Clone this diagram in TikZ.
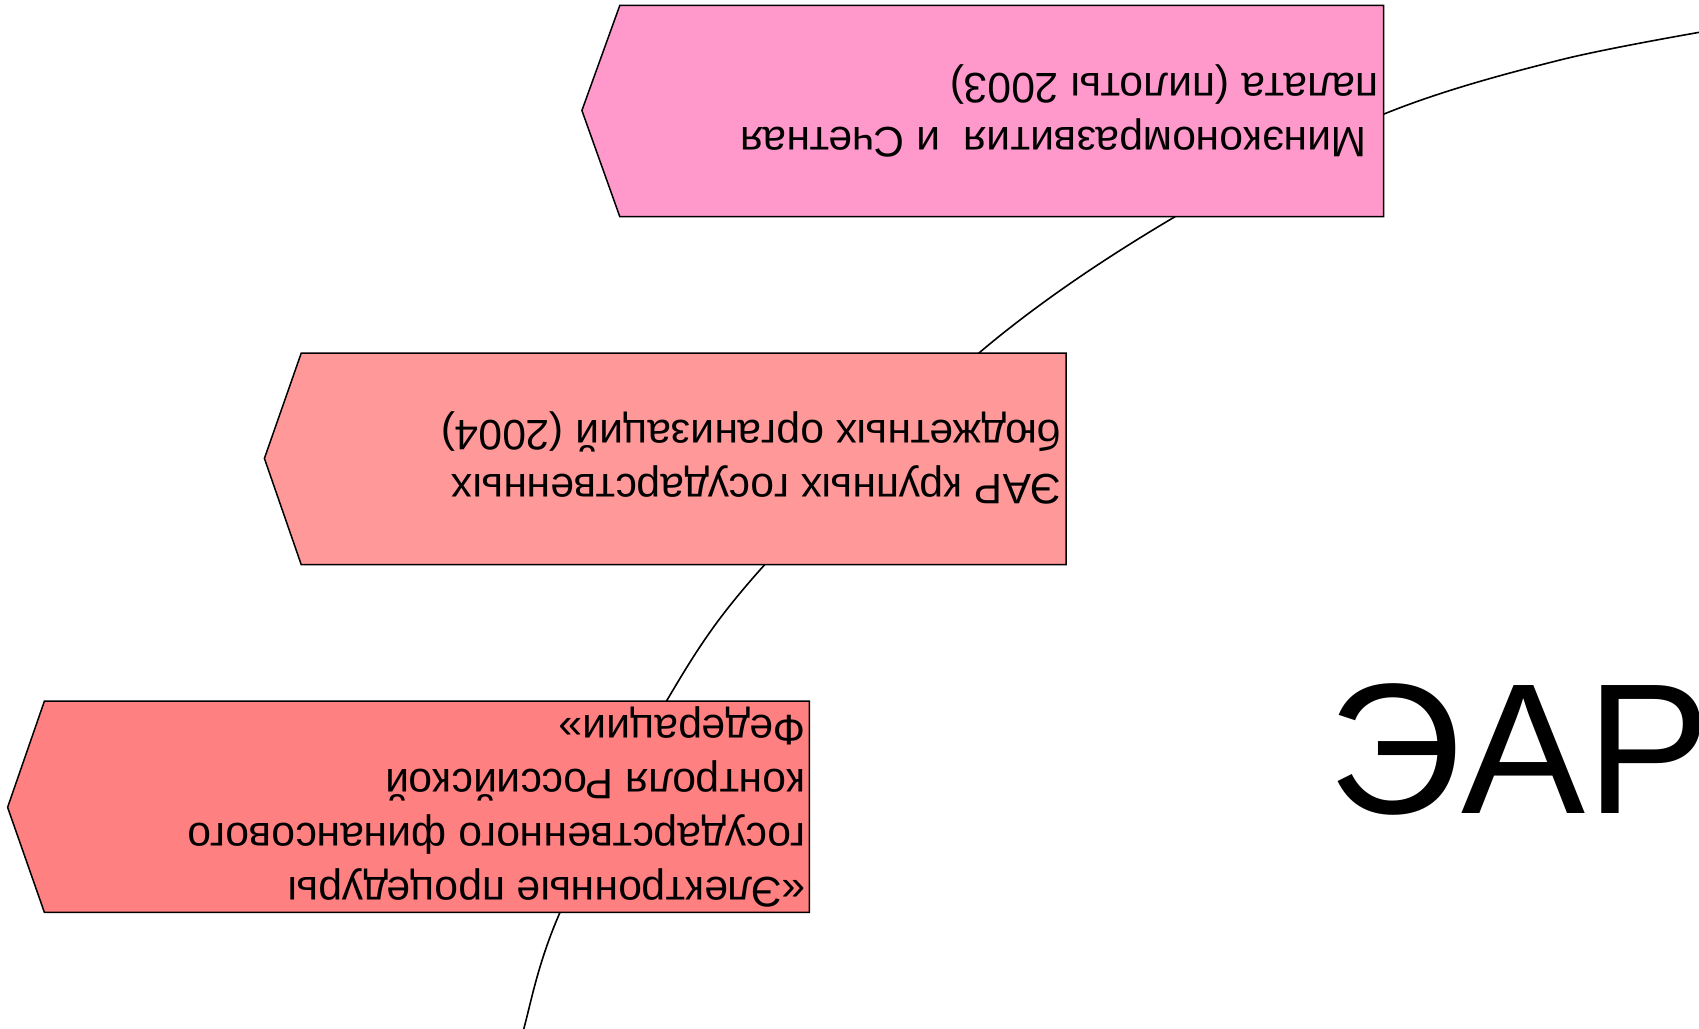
\documentclass[tikz,border=0pt]{standalone}
\usepackage{fontspec}
\setmainfont{Liberation Sans}
\definecolor{boxpink}{HTML}{FF99CC}
\definecolor{boxsalmon}{HTML}{FF9999}
\definecolor{boxred}{HTML}{FF8080}
\begin{document}
\begin{tikzpicture}[x=1pt,y=-1pt,
  boxline/.style={draw=black,line width=1.5pt},
  boxtext/.style={rotate=180,anchor=west,inner sep=0pt,align=left,font=\fontsize{42.6}{54}\selectfont},
  arcline/.style={draw=black,line width=1.6pt}]
\useasboundingbox (0,0) rectangle (1699,1028);
\begin{scope}
\clip (0,0) rectangle (1699,1028);
\draw[arcline] plot[smooth,tension=0.55] coordinates {(1730,27) (1560,60) (1383.3,114.3) (1175,216.7) (979.3,352.7) (765,564.3) (666.7,700.7) (560,912.3) (524,1028) (512,1090)};
\end{scope}
% box 1
\filldraw[boxline,fill=boxpink] (581.9,110.5) -- (619.8,5.4) -- (1383.7,5.4) -- (1383.7,216.7) -- (619.8,216.7) -- cycle;
\node[boxtext] (t1) at (1379,110.5) {~Минэкономразвития~~и Счетная\\палата (пилоты 2003)};
% box 2
\filldraw[boxline,fill=boxsalmon] (264.4,458.4) -- (301.2,353.2) -- (1066.2,353.2) -- (1066.2,564.5) -- (301.2,564.5) -- cycle;
\node[boxtext] (t2) at (1062,458.4) {ЭАР крупных государственных\\бюджетных организаций (2004)};
% box 3
\filldraw[boxline,fill=boxred] (7.6,807.3) -- (44.4,701.1) -- (809.4,701.1) -- (809.4,912.4) -- (44.4,912.4) -- cycle;
\node[boxtext] (t3) at (806,807.3) {«Электронные процедуры\\государственного финансового\\контроля Российской\\Федерации»};
% title
\node[anchor=base west,inner sep=0pt,font=\fontsize{186}{200}\selectfont] (ear) at (1328,813) {ЭАР};
\end{tikzpicture}
\end{document}
